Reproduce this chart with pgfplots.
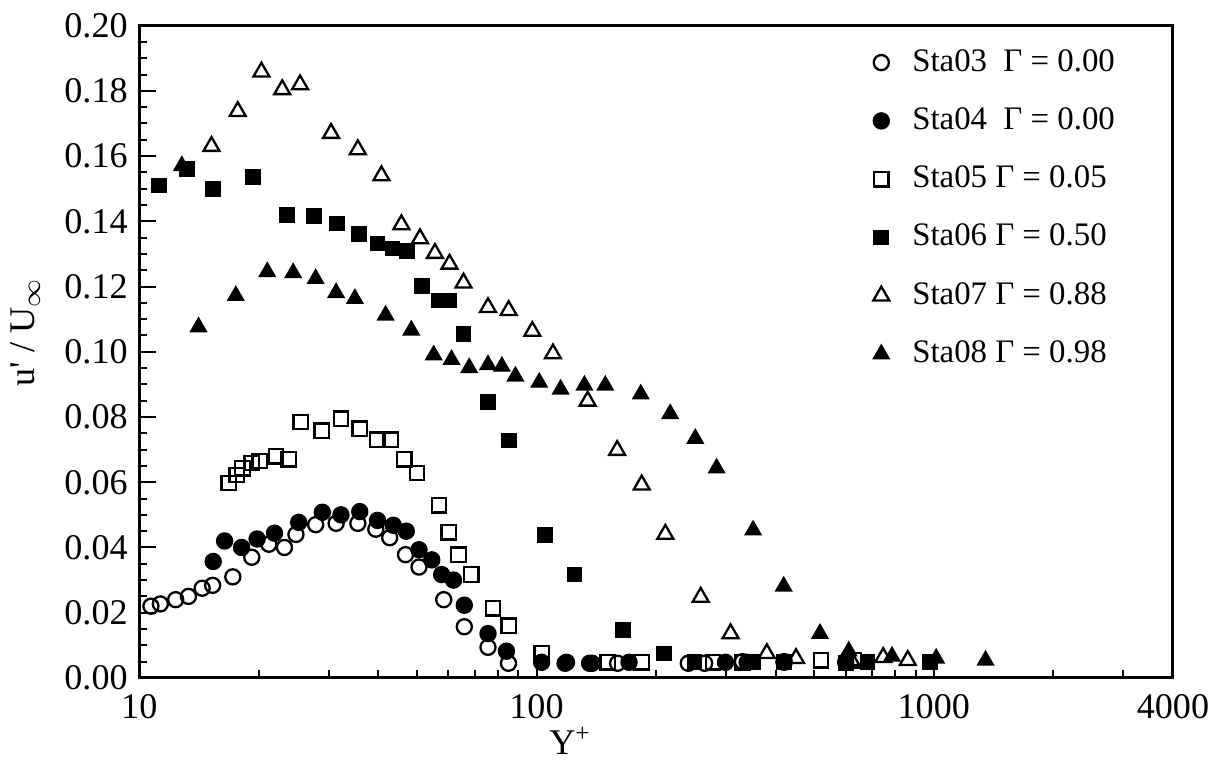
\documentclass[border=0pt]{standalone}
\usepackage{fontspec}
\setmainfont{Liberation Serif}
\usepackage{pgfplots}
\pgfplotsset{compat=1.18}

\begin{document}
\begin{tikzpicture}
\begin{axis}[
    scale only axis,
    width=314.7pt,
    height=198.6pt,
    xmode=log,
    xmin=10, xmax=4000,
    ymin=0, ymax=0.20,
    xtick={10,100,1000,4000},
    xticklabels={10,100,1000,4000},
    minor xtick={20,30,40,50,60,70,80,90,200,300,400,500,600,700,800,900,2000,3000},
    ytick={0,0.02,...,0.201},
    minor y tick num=3,
    tick pos=left,
    tick align=inside,
    major tick length=5pt,
    minor tick length=2.5pt,
    axis line style={line width=0.9pt},
    every tick/.style={black, line width=0.6pt},
    /pgf/number format/assume math mode=true,
    yticklabel style={/pgf/number format/.cd, fixed, fixed zerofill, precision=2},
    xticklabel style={yshift=-1.5pt},
    ticklabel style={font=\fontsize{11}{13}\selectfont},
    xlabel={Y\textsuperscript{+}},
    xlabel style={at={(axis description cs:0.417,0)}, anchor=north, yshift=-11.5pt, font=\fontsize{11}{13}\selectfont},
    ylabel={u\textquotesingle\ /\ U$_{\infty}$},
    ylabel style={at={(axis description cs:-0.11,0.53)}, anchor=center, font=\fontsize{11}{13}\selectfont},
    legend cell align=left,
    legend style={draw=none, fill=none, at={(0.70,0.985)}, anchor=north west,
        row sep=5.6pt, column sep=5pt, font=\fontsize{10}{12}\selectfont},
    clip=false,
]
% Sta03
\addplot[only marks, mark=o, mark size=2.3pt, mark options={fill=white, line width=0.7pt}] coordinates {
    (10.7,0.022) (11.3,0.0227) (12.35,0.024) (13.3,0.025) (14.4,0.0275) (15.3,0.0284)
    (17.2,0.031) (19.2,0.037) (21.2,0.041) (23.2,0.040) (24.8,0.044) (27.8,0.047)
    (31.3,0.0474) (35.5,0.0474) (39.4,0.0456) (42.7,0.043) (46.8,0.0378) (50.6,0.034)
    (58.4,0.024) (65.8,0.0157) (75.5,0.0094) (85,0.0045) (118,0.0045) (138,0.0045)
    (160,0.0045) (241,0.0045) (265,0.0045) (330,0.005) (420,0.005)
};
\addlegendentry{Sta03\ \ Γ = 0.00}
% Sta04
\addplot[only marks, mark=*, mark size=2.3pt, mark options={line width=0.7pt}] coordinates {
    (15.35,0.0357) (16.4,0.042) (18.1,0.040) (19.8,0.0426) (21.9,0.0444) (25.2,0.0477)
    (28.9,0.0508) (32.2,0.050) (35.9,0.051) (39.8,0.0483) (43.6,0.0468) (47,0.045)
    (50.6,0.0393) (54.5,0.0362) (57.7,0.0317) (61.8,0.030) (65.8,0.0223) (75.5,0.0136)
    (84,0.0082) (103,0.0048) (119,0.0048) (136,0.0045) (171,0.0048) (299,0.0048)
    (339,0.0048) (420,0.0048) (600,0.0048)
};
\addlegendentry{Sta04\ \ Γ = 0.00}
% Sta05
\addplot[only marks, mark=square, mark size=2.2pt, mark options={fill=white, line width=0.7pt}] coordinates {
    (16.8,0.0598) (17.6,0.0622) (18.2,0.0643) (19.2,0.0659) (20.1,0.0665) (22.1,0.068)
    (23.8,0.067) (25.5,0.0785) (28.8,0.0758) (32.2,0.0795) (35.9,0.0764) (39.8,0.073)
    (42.9,0.073) (46.5,0.067) (50,0.0628) (56.8,0.0529) (60.1,0.0447) (63.6,0.0378)
    (68.5,0.0317) (77.7,0.0214) (85.1,0.016) (103,0.0075) (151,0.0048) (184,0.0048)
    (278,0.0048) (330,0.0048) (520,0.0054) (630,0.0054)
};
\addlegendentry{Sta05 Γ = 0.05}
% Sta06
\addplot[only marks, mark=square*, mark size=2.2pt] coordinates {
    (11.2,0.151) (13.2,0.156) (15.3,0.150) (19.3,0.1535) (23.5,0.142) (27.5,0.1417)
    (31.5,0.1393) (35.7,0.136) (39.8,0.1332) (43.4,0.1317) (47.3,0.1308) (51.5,0.1202)
    (56.8,0.1157) (60.1,0.1157) (65.5,0.1054) (75.5,0.0846) (85.1,0.0728) (105,0.0438)
    (124.7,0.0317) (165,0.0148) (209,0.0075) (250,0.005) (350,0.005) (420,0.005)
    (600,0.0045) (681,0.0048) (980,0.0048)
};
\addlegendentry{Sta06 Γ = 0.50}
% Sta07
\addplot[only marks, mark=triangle, mark size=2.8pt, mark options={fill=white, line width=0.7pt}] coordinates {
    (15.2,0.163) (17.7,0.1737) (20.3,0.1858) (22.9,0.1804) (25.4,0.1819) (30.4,0.167)
    (35.5,0.162) (40.7,0.154) (45.7,0.139) (50.9,0.1347) (55.5,0.1302) (60.4,0.1269)
    (65.5,0.1211) (75.5,0.1136) (85.1,0.1127) (97.6,0.1063) (110,0.0994) (134.5,0.0849)
    (159.6,0.0698) (184,0.0592) (211,0.0441) (259,0.0248) (308,0.0136) (380,0.0075)
    (450,0.006) (620,0.0054) (746,0.0063) (860,0.0054)
};
\addlegendentry{Sta07 Γ = 0.88}
% Sta08
\addplot[only marks, mark=triangle*, mark size=2.8pt] coordinates {
    (12.8,0.157) (14.1,0.1076) (17.5,0.1172) (21.0,0.1245) (24.4,0.1242) (27.8,0.1224)
    (31.3,0.1181) (34.9,0.1163) (41.7,0.1112) (48.4,0.1066) (55.1,0.099) (61.1,0.0976)
    (67.7,0.0951) (75.5,0.096) (81.8,0.0955) (88.5,0.0925) (101.6,0.0906) (115,0.0885)
    (132,0.0897) (149,0.0897) (183,0.087) (217,0.081) (251,0.0734) (284,0.0643)
    (351,0.0453) (419,0.0281) (517,0.0136) (611,0.0082) (785,0.0066) (1014,0.006)
    (1350,0.0054)
};
\addlegendentry{Sta08 Γ = 0.98}
\end{axis}
\path ([xshift=-39.9pt,yshift=-21pt]current axis.south west)
    rectangle ([xshift=11.4pt,yshift=7.8pt]current axis.north east);
\end{tikzpicture}
\end{document}
